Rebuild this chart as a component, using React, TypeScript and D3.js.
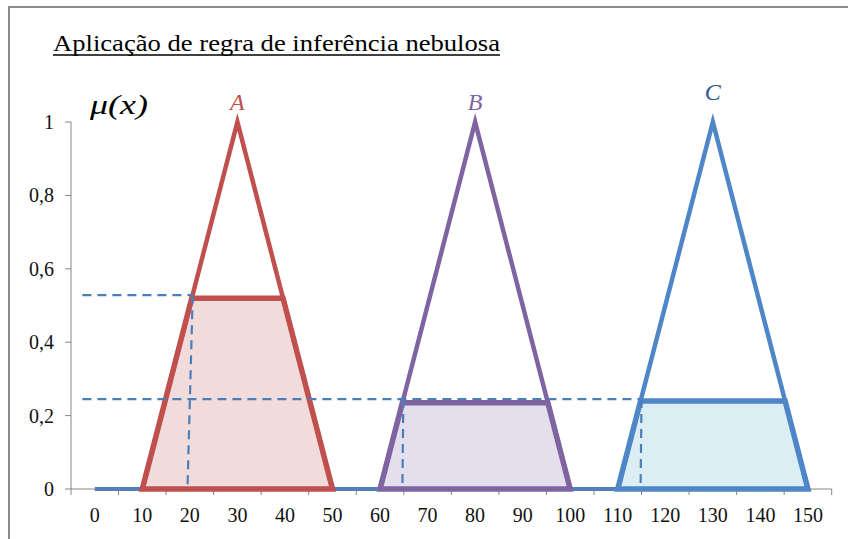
import React from "react";
import * as d3 from "d3";

const xTickLabels = [0, 10, 20, 30, 40, 50, 60, 70, 80, 90, 100, 110, 120, 130, 140, 150];
const yTickValues = [0, 0.2, 0.4, 0.6, 0.8, 1];
const yTickLabels = ["0", "0,2", "0,4", "0,6", "0,8", "1"];

const setNames = ["A", "B", "C"];
const triangleA: [number, number][] = [[10, 0], [30, 1], [50, 0]];
const triangleB: [number, number][] = [[60, 0], [80, 1], [100, 0]];
const triangleC: [number, number][] = [[110, 0], [130, 1], [150, 0]];

const clipA: [number, number][] = [[10, 0], [20.4, 0.52], [39.6, 0.52], [50, 0]];
const clipB: [number, number][] = [[60, 0], [64.7, 0.235], [95.3, 0.235], [100, 0]];
const clipC: [number, number][] = [[110, 0], [114.8, 0.24], [145.2, 0.24], [150, 0]];

const baseline: [number, number][] = [[0, 0], [150, 0]];

const dashH1: [number, number][] = [[-2.6, 0.528], [20.6, 0.528]];
const dashV1: [number, number][] = [[20.6, 0.528], [19.5, 0]];
const dashH2: [number, number][] = [[-2.6, 0.245], [115, 0.245]];
const dashV2: [number, number][] = [[64.9, 0.245], [64.7, 0]];
const dashV3: [number, number][] = [[115, 0.245], [114.8, 0]];

const W = 848;
const H = 539;

const serif = { fontFamily: "'Liberation Serif', serif" };

export default function App() {
  const x = d3.scaleLinear().domain([-5, 155]).range([71, 831.7]);
  const y = d3.scaleLinear().domain([0, 1]).range([489, 122]);
  const line = d3
    .line<[number, number]>()
    .x((d) => x(d[0]))
    .y((d) => y(d[1]));

  const sets = [
    { name: setNames[0], tri: triangleA, clip: clipA, stroke: "#c0504d", fill: "#f2dcdb", label: "#c0504d", ly: 110 },
    { name: setNames[1], tri: triangleB, clip: clipB, stroke: "#8064a2", fill: "#e4dfec", label: "#8064a2", ly: 110 },
    { name: setNames[2], tri: triangleC, clip: clipC, stroke: "#4f86c8", fill: "#dbeef4", label: "#2e5a8c", ly: 100 },
  ];

  const xTickMarks = d3.range(-5, 156, 10);
  const axisColor = "#868686";
  const dashColor = "#4a7ebb";
  const dashes = [dashH1, dashV1, dashH2, dashV2, dashV3];

  return (
    <svg
      width={W}
      height={H}
      style={{ position: "absolute", left: 0, top: 0, background: "#fff" }}
    >
      <rect x={0} y={0} width={W} height={H} fill="#fff" />
      <rect x={9} y={7} width={W + 50} height={H + 50} fill="none" stroke="#8c8c8c" strokeWidth={2} />

      <text
        x={53}
        y={51}
        style={{ ...serif, fontSize: "24px" }}
        textLength={447}
        lengthAdjust="spacingAndGlyphs"
        fill="#000"
      >
        Aplicação de regra de inferência nebulosa
      </text>
      <line x1={53} x2={500} y1={55} y2={55} stroke="#000" strokeWidth={1.3} />

      <text
        x={90}
        y={114}
        style={{ ...serif, fontSize: "27px", fontStyle: "italic" }}
        textLength={58}
        lengthAdjust="spacingAndGlyphs"
        fill="#000"
      >
        μ(x)
      </text>

      {/* axes */}
      <line x1={x(-5)} x2={x(-5)} y1={y(0)} y2={y(1)} stroke={axisColor} strokeWidth={1} />
      {yTickValues.map((v) => (
        <line key={"yt" + v} x1={x(-5) - 6} x2={x(-5)} y1={y(v)} y2={y(v)} stroke={axisColor} strokeWidth={1} />
      ))}
      {yTickValues.map((v, i) => (
        <text
          key={"yl" + v}
          x={54}
          y={y(v) + 7}
          textAnchor="end"
          style={{ ...serif, fontSize: "20px" }}
          fill="#111"
        >
          {yTickLabels[i]}
        </text>
      ))}
      <line x1={x(-5)} x2={x(155)} y1={y(0)} y2={y(0)} stroke={axisColor} strokeWidth={1} />
      {xTickMarks.map((v) => (
        <line key={"xt" + v} x1={x(v)} x2={x(v)} y1={y(0)} y2={y(0) + 6} stroke={axisColor} strokeWidth={1} />
      ))}
      {xTickLabels.map((v) => (
        <text
          key={"xl" + v}
          x={x(v)}
          y={522}
          textAnchor="middle"
          style={{ ...serif, fontSize: "20px" }}
          fill="#111"
        >
          {v}
        </text>
      ))}

      {/* baseline */}
      <path d={line(baseline) || ""} fill="none" stroke="#4f81bd" strokeWidth={4} />

      {/* clipped areas */}
      {sets.map((s) => (
        <path key={"f" + s.name} d={(line(s.clip) || "") + "Z"} fill={s.fill} stroke="none" />
      ))}

      {/* triangles */}
      {sets.map((s) => (
        <path
          key={"t" + s.name}
          d={line(s.tri) || ""}
          fill="none"
          stroke={s.stroke}
          strokeWidth={4.5}
          strokeLinejoin="miter"
        />
      ))}

      {/* trapezoids */}
      {sets.map((s) => (
        <path
          key={"c" + s.name}
          d={(line(s.clip) || "") + "Z"}
          fill="none"
          stroke={s.stroke}
          strokeWidth={5.5}
          strokeLinejoin="miter"
        />
      ))}

      {/* set labels */}
      {sets.map((s) => (
        <text
          key={"l" + s.name}
          x={x(s.tri[1][0])}
          y={s.ly}
          textAnchor="middle"
          style={{ ...serif, fontSize: "24px", fontStyle: "italic" }}
          fill={s.label}
        >
          {s.name}
        </text>
      ))}

      {/* dashed guides */}
      {dashes.map((d, i) => (
        <path
          key={"d" + i}
          d={line(d) || ""}
          fill="none"
          stroke={dashColor}
          strokeWidth={2.2}
          strokeDasharray="9,6"
        />
      ))}
    </svg>
  );
}
